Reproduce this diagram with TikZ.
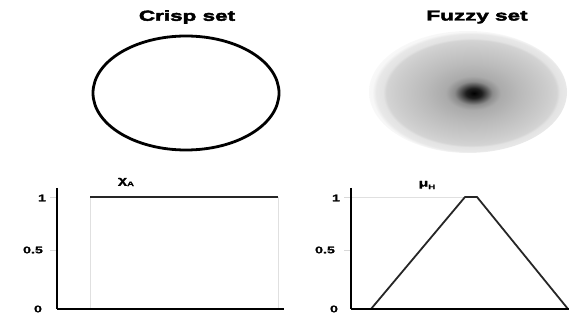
\documentclass[tikz,border=0pt]{standalone}
\usepackage{fontspec}
\setmainfont{Liberation Sans}
\newfontfamily\titlefont[FakeStretch=1.55,FakeBold=3]{Liberation Sans}
\newfontfamily\lblfont[FakeStretch=1.5,FakeBold=1.5]{Liberation Sans}
\pgfdeclareradialshading{fuzzyshade}{\pgfpoint{1.5bp}{-0.5bp}}{%
  color(0bp)=(black);
  color(2bp)=(black!88);
  color(4.8bp)=(black!45);
  color(7bp)=(black!33);
  color(12bp)=(black!27);
  color(19bp)=(black!20);
  color(21.5bp)=(black!17);
  color(22.3bp)=(black!11);
  color(24bp)=(black!9);
  color(25bp)=(black!3);
  color(50bp)=(white)}
\begin{document}
\begin{tikzpicture}[x=1pt,y=-1pt,
  title/.style={font=\titlefont\bfseries\fontsize{14.5}{15}\selectfont, inner sep=0pt},
  ticklbl/.style={font=\lblfont\bfseries\fontsize{9.5}{10}\selectfont, inner sep=0pt},
  funlbl/.style={font=\lblfont\bfseries\fontsize{10.5}{11}\selectfont, inner sep=0pt},
  axis/.style={line width=2.6pt, black},
  curve/.style={line width=1.8pt, black!85},
  guide/.style={line width=0.5pt, black!12},
  tick/.style={line width=0.6pt, black!15}]
\useasboundingbox (0,0) rectangle (569,320);

% titles
\node[title] (tcrisp) at (187,17) {Crisp set};
\node[title] (tfuzzy) at (477,17) {Fuzzy set};

% crisp set circle
\draw[line width=2.8pt] (186,93) ellipse [x radius=93, y radius=57];

% fuzzy set disc
\path[shading=fuzzyshade] (468,92) ellipse [x radius=99, y radius=61];

% ---- left plot ----
\coordinate (LO) at (57,309);
\coordinate (LT) at (57,188);
\coordinate (LX) at (284,309);
\draw[guide] (90,197) -- (90,309);
\draw[guide] (278,197) -- (278,309);
\draw[tick] (50,197) -- (57,197);
\draw[tick] (50,250) -- (57,250);
\draw[curve] (90,197) -- (278,197);
\draw[axis] (LT) -- (LO);
\draw[axis, line width=2.3pt] (LO) -- (LX);
\node[ticklbl] (l1) at (42,198) {1};
\node[ticklbl] (l05) at (33,250) {0.5};
\node[ticklbl] (l0) at (38,309) {0};
\node[funlbl] (chi) at (126,182) {χ\raisebox{-2.5pt}{\fontsize{6.5}{6.5}\selectfont A}};

% ---- right plot ----
\coordinate (RO) at (351,309);
\coordinate (RT) at (351,188);
\coordinate (RX) at (569,309);
\draw[guide] (351,197) -- (465,197);
\draw[tick] (344,250) -- (351,250);
\draw[tick] (344,197) -- (351,197);
\coordinate (A) at (371,309);
\coordinate (B) at (465,197);
\coordinate (C) at (477,197);
\coordinate (D) at (568,309);
\draw[curve, line join=round] (A) -- (B) -- (C) -- (D);
\draw[axis] (RT) -- (RO);
\draw[axis, line width=2.3pt] (RO) -- (RX);
\node[ticklbl] (r1) at (336,198) {1};
\node[ticklbl] (r05) at (325,250) {0.5};
\node[ticklbl] (r0) at (334,309) {0};
\node[funlbl] (mu) at (427,185) {μ\raisebox{-2.5pt}{\fontsize{6.5}{6.5}\selectfont H}};
\end{tikzpicture}
\end{document}
